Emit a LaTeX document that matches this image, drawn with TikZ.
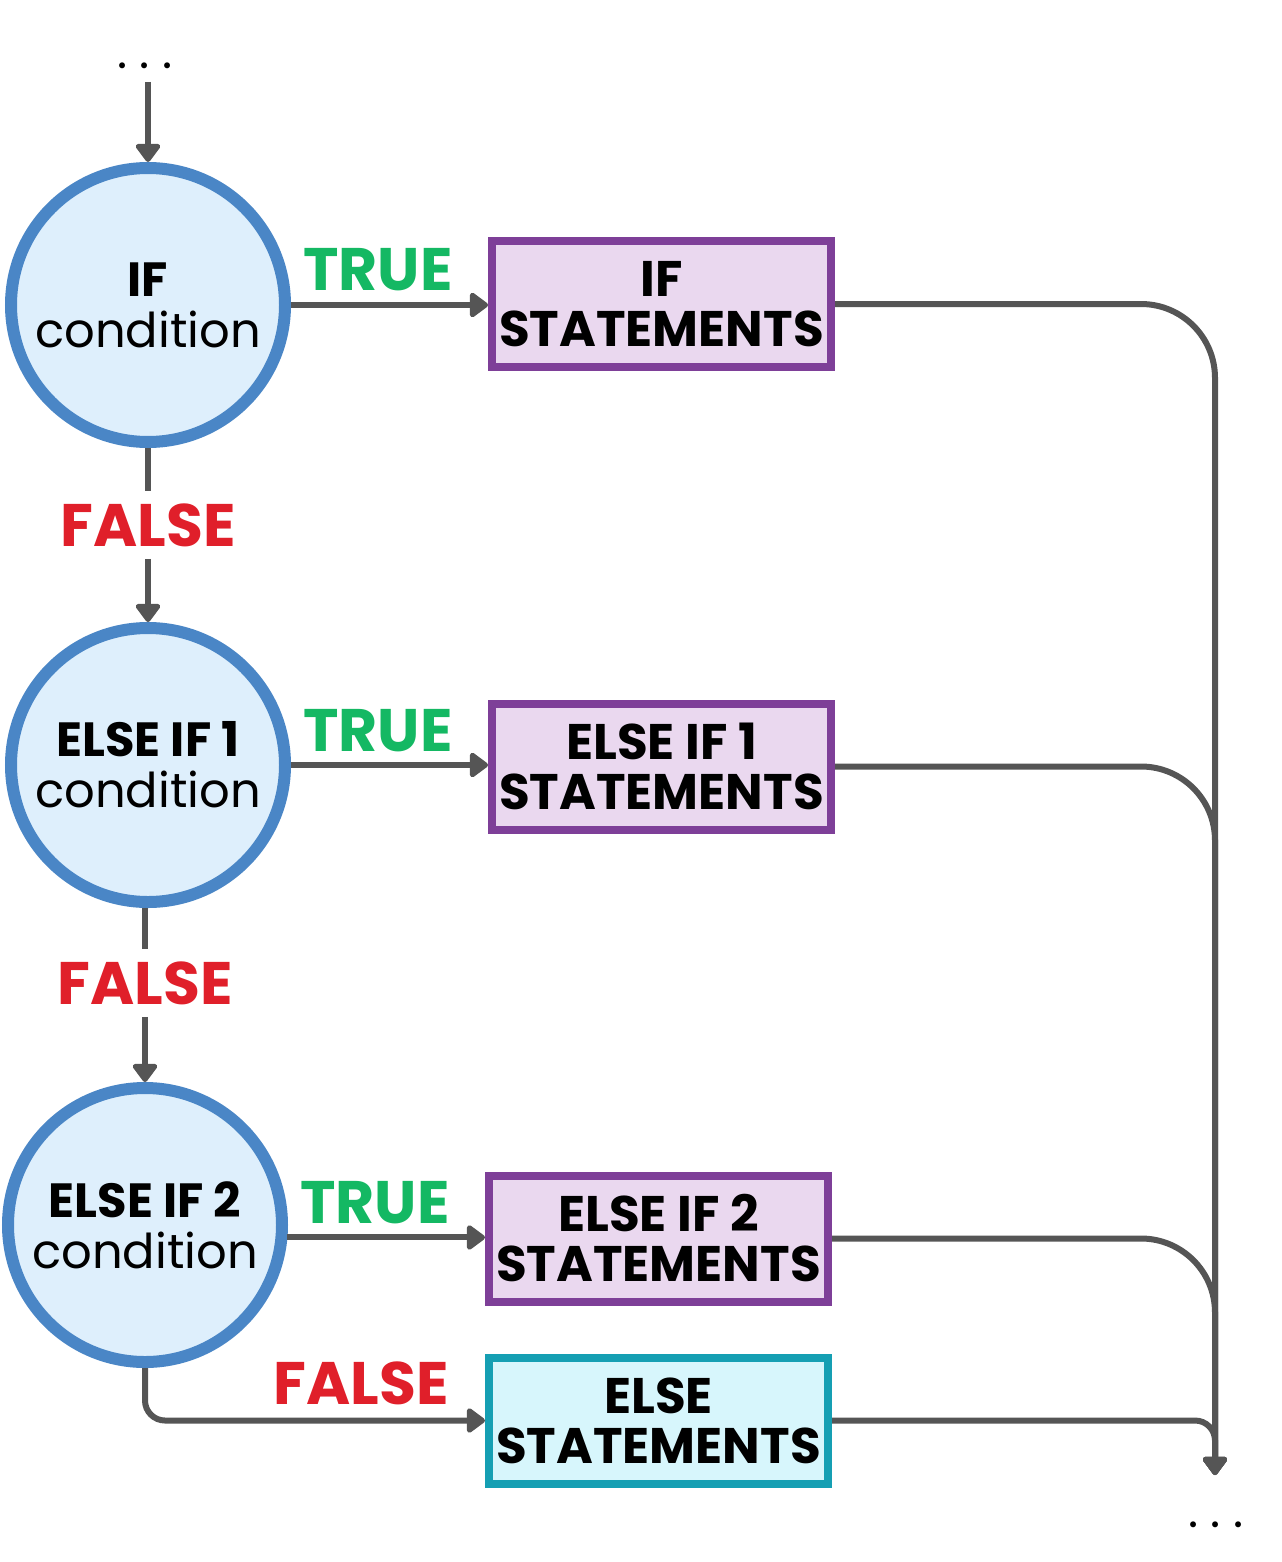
\documentclass[tikz,border=0pt]{standalone}
\usepackage{fontspec}
\setmainfont{Poppins}
\usetikzlibrary{arrows.meta}

\definecolor{condblue}{HTML}{4A86C6}
\definecolor{condfill}{HTML}{DEEFFC}
\definecolor{stmtpurple}{HTML}{7E3F98}
\definecolor{stmtfill}{HTML}{EAD8EF}
\definecolor{elseteal}{HTML}{159FB3}
\definecolor{elsefill}{HTML}{D7F6FC}
\definecolor{linegray}{HTML}{555555}
\definecolor{truegreen}{HTML}{14B863}
\definecolor{falsered}{HTML}{E01F2A}

\begin{document}
\begin{tikzpicture}[x=0.5pt, y=-0.5pt,
  cond/.style={circle, draw=condblue, line width=6pt, fill=condfill, minimum size=137pt, inner sep=0pt, align=center, font=\fontsize{24}{25.5}\selectfont},
  stmt/.style={rectangle, draw=stmtpurple, line width=4pt, fill=stmtfill, minimum width=169.5pt, minimum height=63pt, inner sep=0pt, align=center, font=\bfseries\fontsize{25}{25}\selectfont},
  elsebox/.style={stmt, draw=elseteal, fill=elsefill},
  conn/.style={draw=linegray, line width=3pt, line join=round},
  flow/.style={conn, -{Triangle[length=10pt, width=14pt, round]}},
  truelbl/.style={text=truegreen, font=\bfseries\fontsize{30}{30}\selectfont, inner sep=6pt},
  falselbl/.style={text=falsered, font=\bfseries\fontsize{30}{30}\selectfont, inner sep=6pt},
  dots/.style={font=\fontsize{24}{24}\selectfont, inner sep=0pt}
]
  \useasboundingbox (0,0) rectangle (1281,1562);

  % conditions
  \node[cond] (c1) at (148,305) {\textbf{IF}\\condition};
  \node[cond] (c2) at (148,765) {\textbf{ELSE IF 1}\\condition};
  \node[cond] (c3) at (145,1225) {\textbf{ELSE IF 2}\\condition};

  % statements
  \node[stmt] (s1) at (661.5,304) {IF\\STATEMENTS};
  \node[stmt] (s2) at (661.5,766.5) {ELSE IF 1\\STATEMENTS};
  \node[stmt] (s3) at (658.5,1238.5) {ELSE IF 2\\STATEMENTS};
  \node[elsebox] (s4) at (658.5,1420.5) {ELSE\\STATEMENTS};

  % labels
  \node[truelbl] (t1) at (378,270) {TRUE};
  \node[truelbl] (t2) at (378,731) {TRUE};
  \node[truelbl] (t3) at (375,1203) {TRUE};
  \node[falselbl] (f1) at (148,525) {FALSE};
  \node[falselbl] (f2) at (145,983) {FALSE};
  \node[falselbl] (f3) at (361,1383) {FALSE};

  \node[dots] (d1) at (145,66) {.\ .\ .};
  \node[dots] (d2) at (1216,1525) {.\ .\ .};
  \coordinate (in) at (148,82);
  \coordinate (out) at (1215,1475);

  % flow
  \draw[flow] (in) -- (c1);
  \draw[conn] (c1) -- (f1);
  \draw[flow] (f1) -- (c2);
  \draw[conn] (c2.south -| f2) -- (f2);
  \draw[flow] (f2) -- (c3);
  \draw[flow, rounded corners=10pt] (c3.south) |- (s4.west);

  \draw[flow] (c1.east) -- (c1.east -| s1.west);
  \draw[flow] (c2.east) -- (c2.east -| s2.west);
  \draw[flow] (c3.-5) -- (c3.-5 -| s3.west);

  \draw[flow, rounded corners=37pt] (s1.east) -| (out);
  \draw[flow, rounded corners=37pt] (s2.east) -| (out);
  \draw[flow, rounded corners=37pt] (s3.east) -| (out);
  \draw[flow, rounded corners=10pt] (s4.east) -| (out);
\end{tikzpicture}
\end{document}
